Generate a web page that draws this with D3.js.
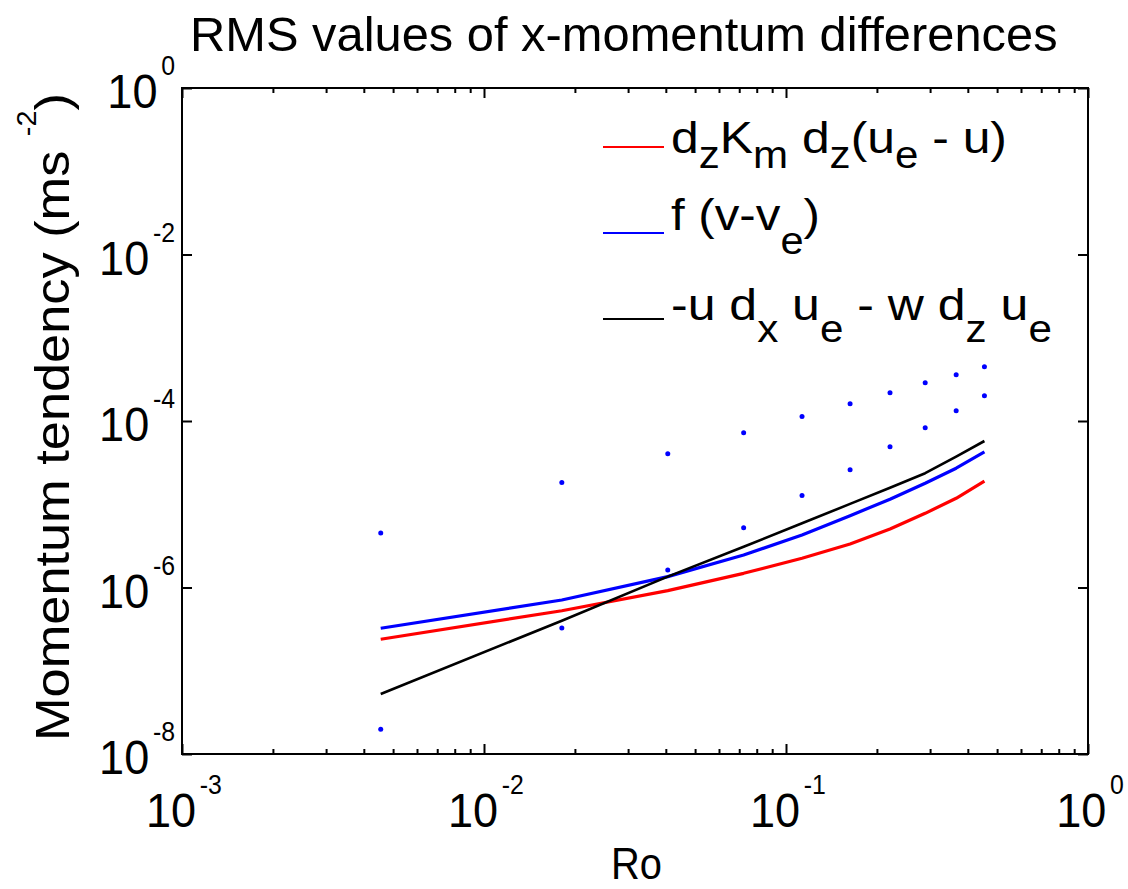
<!DOCTYPE html>
<html>
<head>
<meta charset="utf-8">
<script src="https://cdn.jsdelivr.net/npm/d3@7"></script>
<style>
  html, body { margin: 0; padding: 0; background: #fff; }
  svg { display: block; }
  text { font-family: "Liberation Sans", Arial, Helvetica, sans-serif; fill: #000; }
</style>
</head>
<body>
<svg id="chart" width="1128" height="889"></svg>
<script>
// Rossby numbers of the runs
const rossby = [0.00455, 0.0181, 0.0406, 0.0724, 0.113, 0.163, 0.221, 0.289, 0.366, 0.454];

// RMS tendency terms (m s^-2)
const diffusionTerm = [2.39e-7, 5.26e-7, 9.16e-7, 1.48e-6, 2.25e-6, 3.33e-6, 5.05e-6, 7.78e-6, 1.18e-5, 1.89e-5];
const coriolisTerm  = [3.24e-7, 7.08e-7, 1.35e-6, 2.46e-6, 4.27e-6, 7.29e-6, 1.15e-5, 1.79e-5, 2.71e-5, 4.25e-5];
const advectionTerm = [5.26e-8, 3.99e-7, 1.35e-6, 3.09e-6, 5.90e-6, 1.01e-5, 1.58e-5, 2.36e-5, 3.73e-5, 5.75e-5];

// reference scaling estimates shown as dots
const upperEstimate = [4.52e-6, 1.82e-5, 4.05e-5, 7.23e-5, 1.13e-4, 1.61e-4, 2.19e-4, 2.88e-4, 3.60e-4, 4.49e-4];
const lowerEstimate = [1.98e-8, 3.26e-7, 1.62e-6, 5.23e-6, 1.27e-5, 2.60e-5, 4.91e-5, 8.32e-5, 1.33e-4, 2.01e-4];

// axis ticks (exponents of ten)
const xTickExponents = [-3, -2, -1, 0];
const yTickExponents = [-8, -6, -4, -2, 0];

const titleText = "RMS values of x-momentum differences";
const xLabelText = "Ro";

const series = [
  { values: diffusionTerm, color: "#ff0000", width: 3.2,
    label: [["d",0],["z",1],["K",0],["m",1],[" d",0],["z",1],["(u",0],["e",1],[" - u)",0]] },
  { values: coriolisTerm, color: "#0000ff", width: 3.2,
    label: [["f (v-v",0],["e",1],[")",0]] },
  { values: advectionTerm, color: "#000000", width: 2.6,
    label: [["-u d",0],["x",1],[" u",0],["e",1],[" - w d",0],["z",1],[" u",0],["e",1]] }
];

const svg = d3.select("#chart");
const plot = { left: 182, right: 1088, top: 88, bottom: 754 };
const SX = 0.92;  // horizontal squeeze of all lettering

const x = d3.scaleLog().domain([1e-3, 1]).range([plot.left, plot.right]);
const y = d3.scaleLog().domain([1e-8, 1]).range([plot.bottom, plot.top]);

// ---- tick marks (inside the box, on all four sides)
const majorX = xTickExponents.map(e => Math.pow(10, e));
const minorX = [];
for (let e = -3; e < 0; e++) for (let m = 2; m <= 9; m++) minorX.push(m * Math.pow(10, e));
const majorY = yTickExponents.map(e => Math.pow(10, e));

function styleAxis(g) {
  g.select(".domain").remove();
  g.selectAll(".tick line").attr("stroke", "#000").attr("stroke-width", 2);
  g.selectAll(".tick text").remove();
}

svg.append("g").attr("transform", `translate(0,${plot.bottom})`)
  .call(d3.axisBottom(x).tickValues(majorX).tickSize(-10).tickFormat("")).call(styleAxis);
svg.append("g").attr("transform", `translate(0,${plot.bottom})`)
  .call(d3.axisBottom(x).tickValues(minorX).tickSize(-5).tickFormat("")).call(styleAxis);
svg.append("g").attr("transform", `translate(0,${plot.top})`)
  .call(d3.axisTop(x).tickValues(majorX).tickSize(-10).tickFormat("")).call(styleAxis);
svg.append("g").attr("transform", `translate(0,${plot.top})`)
  .call(d3.axisTop(x).tickValues(minorX).tickSize(-5).tickFormat("")).call(styleAxis);
svg.append("g").attr("transform", `translate(${plot.left},0)`)
  .call(d3.axisLeft(y).tickValues(majorY).tickSize(-10).tickFormat("")).call(styleAxis);
svg.append("g").attr("transform", `translate(${plot.right},0)`)
  .call(d3.axisRight(y).tickValues(majorY).tickSize(-10).tickFormat("")).call(styleAxis);

// ---- box
svg.append("rect")
  .attr("x", plot.left).attr("y", plot.top)
  .attr("width", plot.right - plot.left).attr("height", plot.bottom - plot.top)
  .attr("fill", "none").attr("stroke", "#000").attr("stroke-width", 2);

// ---- power-of-ten tick labels
function powerLabel(exp, anchorX, baseY, align) {
  const g = svg.append("g");
  const inner = g.append("g").attr("transform", `scale(${SX},1)`);
  const base = inner.append("text").attr("x", 0).attr("y", 0)
    .attr("font-size", 49).text("10");
  const bw = base.node().getComputedTextLength();
  const sup = inner.append("text").attr("x", bw + 4).attr("y", -33)
    .attr("font-size", 27).text(String(exp));
  const total = (bw + 4 + sup.node().getComputedTextLength()) * SX;
  const left = align === "center" ? anchorX - total / 2 : anchorX - total;
  g.attr("transform", `translate(${left},${baseY})`);
}
xTickExponents.forEach(e => powerLabel(e, x(Math.pow(10, e)) + 2, plot.bottom + 73, "center"));
yTickExponents.forEach(e => powerLabel(e, plot.left - 7, y(Math.pow(10, e)) + 20, "right"));

// ---- data lines
const line = d3.line().x(d => x(d[0])).y(d => y(d[1]));
series.forEach(s => {
  svg.append("path")
    .datum(rossby.map((r, i) => [r, s.values[i]]))
    .attr("d", line)
    .attr("fill", "none")
    .attr("stroke", s.color)
    .attr("stroke-width", s.width)
    .attr("stroke-linejoin", "round");
});

// ---- scaling-estimate dots
[upperEstimate, lowerEstimate].forEach(est => {
  svg.append("g").selectAll("circle")
    .data(rossby.map((r, i) => [r, est[i]]))
    .join("circle")
    .attr("cx", d => x(d[0])).attr("cy", d => y(d[1]))
    .attr("r", 2.5).attr("fill", "#0000ff");
});

// ---- text that is squeezed to a given width
function fittedText(build, left, baseY, width) {
  const g = svg.append("g");
  const t = g.append("text").attr("x", 0).attr("y", 0);
  build(t);
  const w = t.node().getBBox().width;
  g.attr("transform", `translate(${left},${baseY}) scale(${width / w},1)`);
  return g;
}

// title
fittedText(t => t.attr("font-size", 49).text(titleText), 190, 51, 868);

// x label
fittedText(t => t.attr("font-size", 44).text(xLabelText), 611, 879, 51);

// y label (rotated)
{
  const g = svg.append("g");
  const t = g.append("text").attr("x", 0).attr("y", 0).attr("font-size", 49);
  t.append("tspan").text("Momentum tendency (ms ");
  t.append("tspan").attr("font-size", 27).attr("dy", -33).text("-2");
  t.append("tspan").attr("dy", 33).text(")");
  const w = t.node().getBBox().width;
  g.attr("transform", `translate(69,741) rotate(-90) scale(${648 / w},1)`);
}

// ---- legend
const legendRows = [
  { lineY: 147, baseY: 153, subDrop: 15, width: 336 },
  { lineY: 233, baseY: 230, subDrop: 24, width: 149 },
  { lineY: 319, baseY: 320, subDrop: 22, width: 381 }
];
series.forEach((s, i) => {
  const row = legendRows[i];
  svg.append("line")
    .attr("x1", 603).attr("x2", 664)
    .attr("y1", row.lineY).attr("y2", row.lineY)
    .attr("stroke", s.color).attr("stroke-width", 2.2);
  fittedText(t => {
    let level = 0;
    s.label.forEach(([str, sub]) => {
      const ts = t.append("tspan").text(str)
        .attr("font-size", sub ? 38 : 45);
      if (sub !== level) ts.attr("dy", sub ? row.subDrop : -row.subDrop);
      level = sub;
    });
  }, 671, row.baseY, row.width);
});
</script>
</body>
</html>
